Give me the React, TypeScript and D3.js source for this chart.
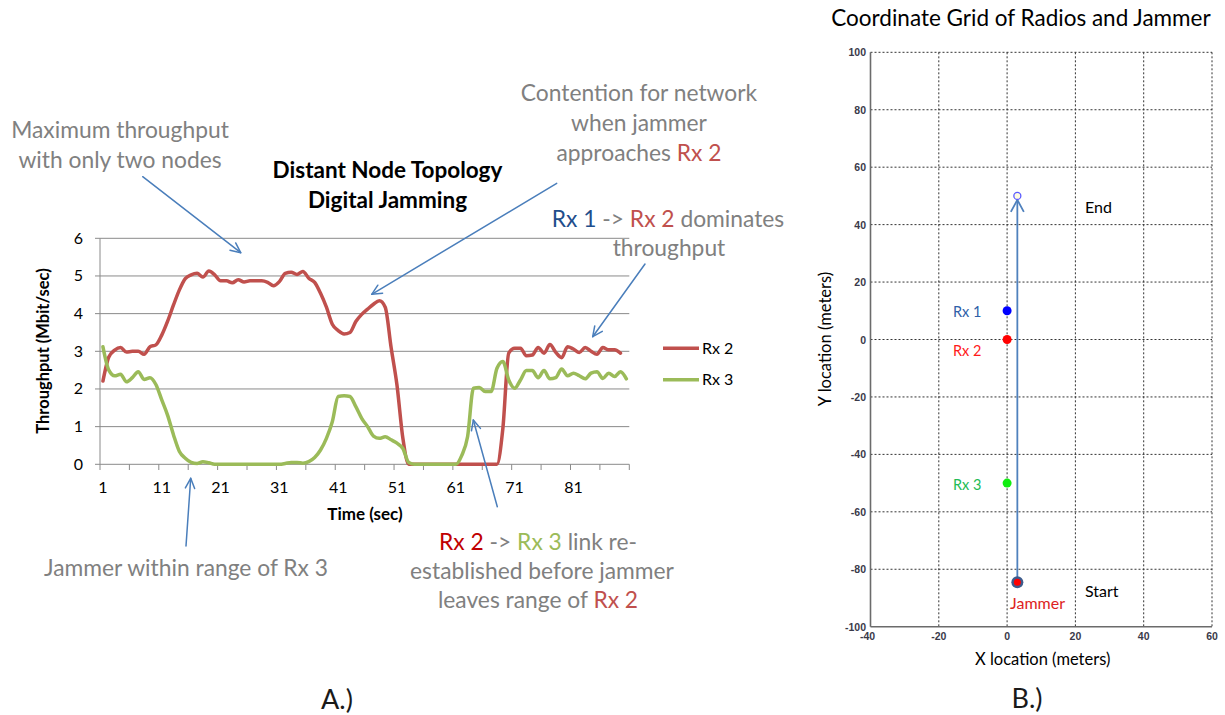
import React from "react";
import * as d3 from "d3";

// ---------- Data: panel A ----------
const rx2Values: number[] = [
  2.21, 2.85, 3.03, 3.1, 2.98, 3.0, 3.0, 2.92, 3.12, 3.17,
  3.43, 3.8, 4.23, 4.63, 4.93, 5.03, 5.07, 4.97, 5.13, 5.03,
  4.87, 4.87, 4.82, 4.9, 4.84, 4.87, 4.87, 4.87, 4.83, 4.74,
  4.85, 5.07, 5.1, 5.04, 5.12, 4.94, 4.83, 4.54, 4.17, 3.72,
  3.55, 3.46, 3.5, 3.79, 3.98, 4.12, 4.25, 4.34, 4.17, 3.1,
  2.1, 0.69, 0, 0, 0, 0, 0, 0, 0, 0,
  0, 0, 0, 0, 0, 0, 0, 0, 0.95, 2.95,
  3.08, 3.08, 2.88, 2.9, 3.1, 2.95, 3.18, 2.97, 2.83, 3.12,
  3.06, 2.97, 3.1, 3.0, 2.92, 3.1, 3.04, 3.04, 2.95,
];
const rx3Values: number[] = [
  3.12, 2.5, 2.35, 2.39, 2.19, 2.3, 2.46, 2.25, 2.3, 2.12,
  1.71, 1.3, 0.78, 0.34, 0.16, 0.05, 0.02, 0.07, 0.04, 0,
  0, 0, 0, 0, 0, 0, 0, 0, 0, 0,
  0, 0.02, 0.05, 0.05, 0.03, 0.07, 0.18, 0.38, 0.69, 1.13,
  1.8, 1.82, 1.8, 1.53, 1.22, 1.0, 0.75, 0.69, 0.73, 0.65,
  0.56, 0.42, 0.05, 0, 0, 0, 0, 0, 0, 0,
  0, 0.23, 0.73, 2.02, 2.04, 1.93, 1.93, 2.55, 2.73, 2.24,
  2.02, 2.24, 2.49, 2.49, 2.3, 2.49, 2.27, 2.3, 2.53, 2.35,
  2.42, 2.35, 2.27, 2.42, 2.46, 2.28, 2.42, 2.33, 2.46, 2.27,
];
const timeCategories: number[] = d3.range(1, 91);
const timeTickLabels: number[] = [1, 11, 21, 31, 41, 51, 61, 71, 81];
const throughputTicks: number[] = [0, 1, 2, 3, 4, 5, 6];
const seriesNames = ["Rx 2", "Rx 3"];

// ---------- Data: panel B ----------
const gridXTicks: number[] = [-40, -20, 0, 20, 40, 60];
const gridYTicks: number[] = [-100, -80, -60, -40, -20, 0, 20, 40, 60, 80, 100];
const radioNames = ["Rx 1", "Rx 2", "Rx 3"];
const radioX: number[] = [0, 0, 0];
const radioY: number[] = [10, 0, -50];
const jammerStart: [number, number] = [3, -84.5];
const jammerEnd: [number, number] = [3, 50];

const FONT = "Lato, 'Open Sans', sans-serif";
const RED = "#c0504d";
const GREEN = "#9bbb59";
const GRAY_TXT = "#808080";
const ARROW = "#4a7ebb";

function Arrow({ x1, y1, x2, y2, color = ARROW, w = 1.5, head = 11 }: any) {
  const ang = Math.atan2(y2 - y1, x2 - x1);
  const a = (25 * Math.PI) / 180;
  const p1 = [x2 - head * Math.cos(ang - a), y2 - head * Math.sin(ang - a)];
  const p2 = [x2 - head * Math.cos(ang + a), y2 - head * Math.sin(ang + a)];
  return (
    <g stroke={color} strokeWidth={w} fill="none" strokeLinecap="round" strokeLinejoin="round">
      <line x1={x1} y1={y1} x2={x2} y2={y2} />
      <polyline points={`${p1[0]},${p1[1]} ${x2},${y2} ${p2[0]},${p2[1]}`} />
    </g>
  );
}

export default function App() {
  // Panel A scales
  const x = d3.scaleBand<number>().domain(timeCategories).range([100, 629.3]);
  const bw = x.bandwidth();
  const cx = (k: number) => (x(k) as number) + bw / 2;
  const y = d3.scaleLinear().domain([0, 6]).range([464.3, 238.3]);
  const line = d3
    .line<number>()
    .x((_, i) => cx(i + 1))
    .y((d) => y(d))
    .curve(d3.curveMonotoneX);
  const boundaryTicks = d3.range(0, 91, 5).map((i) => 100 + i * bw);

  // Panel B scales
  const gx = d3.scaleLinear().domain([-40, 60]).range([870.5, 1212]);
  const gy = d3.scaleLinear().domain([-100, 100]).range([626.7, 52.3]);

  const annot = { fontFamily: FONT, fontSize: 22.8, fill: GRAY_TXT, textAnchor: "middle" as const };

  return (
    <svg
      width={1225}
      height={715}
      style={{ position: "absolute", left: 0, top: 0, display: "block", background: "#fff" }}
    >
      <rect width={1225} height={715} fill="#fff" />

      {/* ===== Panel A ===== */}
      {throughputTicks.map((t) => (
        <g key={"g" + t}>
          <line x1={100} x2={629.3} y1={y(t)} y2={y(t)} stroke="#8a8a8a" strokeWidth={1} />
          <line x1={95} x2={100} y1={y(t)} y2={y(t)} stroke="#8a8a8a" strokeWidth={1} />
          <text x={83} y={y(t) + 5.5} textAnchor="end" fontFamily={FONT} fontSize={16} fill="#000">
            {t}
          </text>
        </g>
      ))}
      <line x1={100} x2={100} y1={238.3} y2={464.3} stroke="#8a8a8a" strokeWidth={1} />
      {boundaryTicks.map((bx, i) => (
        <line key={"bt" + i} x1={bx} x2={bx} y1={464.3} y2={470} stroke="#8a8a8a" strokeWidth={1} />
      ))}
      {timeTickLabels.map((t) => (
        <text key={"xl" + t} x={cx(t)} y={493} textAnchor="middle" fontFamily={FONT} fontSize={16} fill="#000">
          {t}
        </text>
      ))}
      <text x={365} y={519.5} textAnchor="middle" fontFamily={FONT} fontSize={17} fontWeight="bold" fill="#000">
        Time (sec)
      </text>
      <text
        transform="translate(49,351) rotate(-90)"
        textAnchor="middle"
        fontFamily={FONT}
        fontSize={16.5}
        fontWeight="bold"
        fill="#000"
      >
        Throughput (Mbit/sec)
      </text>

      <path d={line(rx2Values) || ""} fill="none" stroke={RED} strokeWidth={3.5} strokeLinejoin="round" strokeLinecap="round" />
      <path d={line(rx3Values) || ""} fill="none" stroke={GREEN} strokeWidth={3.5} strokeLinejoin="round" strokeLinecap="round" />

      {/* legend */}
      {seriesNames.map((n, i) => (
        <g key={n}>
          <line x1={663} x2={699} y1={348.3 + i * 31.5} y2={348.3 + i * 31.5} stroke={i === 0 ? RED : GREEN} strokeWidth={3.5} />
          <text x={702} y={353.8 + i * 31.5} fontFamily={FONT} fontSize={16} fill="#000">
            {n}
          </text>
        </g>
      ))}

      {/* chart title */}
      <text x={387.5} y={178} textAnchor="middle" fontFamily={FONT} fontSize={22.5} fontWeight="bold" fill="#000">
        Distant Node Topology
      </text>
      <text x={387.5} y={207.5} textAnchor="middle" fontFamily={FONT} fontSize={22.5} fontWeight="bold" fill="#000">
        Digital Jamming
      </text>

      {/* annotations */}
      <text {...annot} x={120} y={138}>Maximum throughput</text>
      <text {...annot} x={120} y={168}>with only two nodes</text>
      <Arrow x1={142.7} y1={176.7} x2={240.7} y2={252.7} />

      <text {...annot} x={639} y={100.7}>Contention for network</text>
      <text {...annot} x={639} y={131}>when jammer</text>
      <text {...annot} x={639} y={160.7}>
        approaches <tspan fill={RED}>Rx 2</tspan>
      </text>
      <Arrow x1={556.7} y1={183.3} x2={371.7} y2={294.3} />

      <text {...annot} x={668} y={226.7}>
        <tspan fill="#1f4e8c">Rx 1</tspan> -&gt; <tspan fill={RED}>Rx 2</tspan> dominates
      </text>
      <text {...annot} x={669} y={255.5}>throughput</text>
      <Arrow x1={645} y1={264} x2={592.7} y2={336.7} />

      <text {...annot} x={186} y={576}>Jammer within range of Rx 3</text>
      <Arrow x1={186} y1={546} x2={190.7} y2={478.3} />

      <text {...annot} x={538} y={550}>
        <tspan fill="#c00000">Rx 2</tspan> -&gt; <tspan fill={GREEN}>Rx 3</tspan> link re-
      </text>
      <text {...annot} x={542} y={579.3}>established before jammer</text>
      <text {...annot} x={538} y={608.3}>
        leaves range of <tspan fill={RED}>Rx 2</tspan>
      </text>
      <Arrow x1={497.3} y1={506.7} x2={473.3} y2={420} />

      <text x={337} y={709} textAnchor="middle" fontFamily={FONT} fontSize={27} fill="#1a1a1a">
        A.)
      </text>

      {/* ===== Panel B ===== */}
      <text x={1021} y={26} textAnchor="middle" fontFamily={FONT} fontSize={22.5} fill="#000">
        Coordinate Grid of Radios and Jammer
      </text>
      {gridYTicks.slice(1).map((t) => (
        <line key={"hy" + t} x1={gx(-40)} x2={gx(60)} y1={gy(t)} y2={gy(t)} stroke="#333" strokeWidth={1} strokeDasharray="2,2" />
      ))}
      {gridXTicks.slice(1).map((t) => (
        <line key={"vx" + t} x1={gx(t)} x2={gx(t)} y1={gy(100)} y2={gy(-100)} stroke="#333" strokeWidth={1} strokeDasharray="2,2" />
      ))}
      <line x1={gx(-40)} x2={gx(-40)} y1={gy(100)} y2={gy(-100)} stroke="#6b6b6b" strokeWidth={1.6} />
      <line x1={gx(-40)} x2={gx(60)} y1={gy(-100)} y2={gy(-100)} stroke="#6b6b6b" strokeWidth={1.6} />
      {gridYTicks.map((t) => (
        <text key={"yt" + t} x={866} y={gy(t) + 4} textAnchor="end" fontFamily="'Liberation Sans', Arial, sans-serif" fontSize={10.5} fontWeight="bold" fill="#3a3a4a">
          {t}
        </text>
      ))}
      {gridXTicks.map((t) => (
        <text key={"xt" + t} x={gx(t) - (t === -40 ? 3 : 0)} y={640} textAnchor="middle" fontFamily="'Liberation Sans', Arial, sans-serif" fontSize={10.5} fontWeight="bold" fill="#3a3a4a">
          {t}
        </text>
      ))}
      <text x={1042.7} y={665} textAnchor="middle" fontFamily={FONT} fontSize={16.5} fill="#000">
        X location (meters)
      </text>
      <text transform="translate(831,339) rotate(-90)" textAnchor="middle" fontFamily={FONT} fontSize={16.5} fill="#000">
        Y location (meters)
      </text>

      {/* jammer path */}
      <line x1={gx(jammerStart[0])} x2={gx(jammerEnd[0])} y1={gy(jammerStart[1])} y2={gy(jammerEnd[1]) + 3} stroke="#4f81bd" strokeWidth={1.8} />
      <polyline
        points={`${gx(jammerEnd[0]) - 6.5},${gy(jammerEnd[1]) + 16} ${gx(jammerEnd[0])},${gy(jammerEnd[1]) + 4} ${gx(jammerEnd[0]) + 6.5},${gy(jammerEnd[1]) + 16}`}
        fill="none"
        stroke="#4f81bd"
        strokeWidth={1.8}
      />
      <circle cx={gx(jammerEnd[0])} cy={gy(jammerEnd[1])} r={3.5} fill="#fffbe0" stroke="#5a5aff" strokeWidth={1.3} />

      {radioNames.map((n, i) => (
        <circle key={n} cx={gx(radioX[i])} cy={gy(radioY[i])} r={4.5} fill={["#0000ff", "#ff0000", "#11ee11"][i]} />
      ))}
      <circle cx={gx(jammerStart[0])} cy={gy(jammerStart[1])} r={6} fill="#3d5b8c" />
      <circle cx={gx(jammerStart[0])} cy={gy(jammerStart[1])} r={3.5} fill="#ff0000" />

      <text x={953} y={317} fontFamily={FONT} fontSize={14.5} fill="#2f5fa8">{radioNames[0]}</text>
      <text x={953} y={356} fontFamily={FONT} fontSize={14.5} fill="#ff1a1a">{radioNames[1]}</text>
      <text x={953} y={490} fontFamily={FONT} fontSize={14.5} fill="#22bb55">{radioNames[2]}</text>
      <text x={1010} y={609.3} fontFamily={FONT} fontSize={16} fill="#dd2222">Jammer</text>
      <text x={1085} y={597.3} fontFamily={FONT} fontSize={16} fill="#000">Start</text>
      <text x={1085} y={213.3} fontFamily={FONT} fontSize={16} fill="#000">End</text>

      <text x={1027} y={708} textAnchor="middle" fontFamily={FONT} fontSize={27} fill="#1a1a1a">
        B.)
      </text>
    </svg>
  );
}
